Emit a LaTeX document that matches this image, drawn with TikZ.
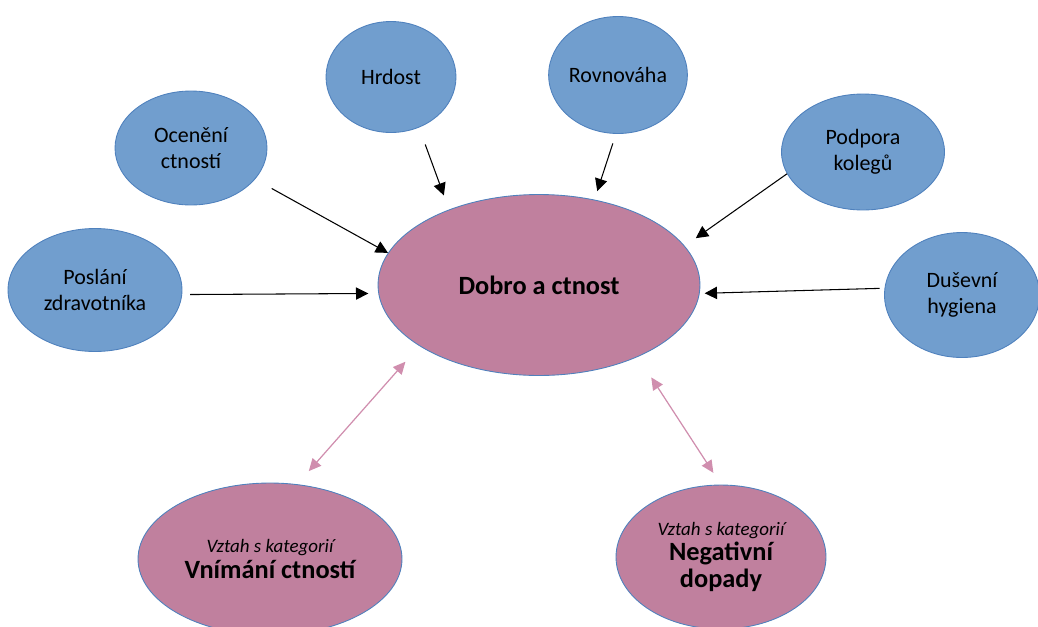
\documentclass[tikz,border=0pt]{standalone}
\usepackage{fontspec}
\setmainfont{Carlito}
\usetikzlibrary{shapes.geometric,arrows.meta}

\definecolor{bubbleblue}{RGB}{113,158,206}
\definecolor{edgeblue}{RGB}{79,129,189}
\definecolor{bubblepink}{RGB}{192,128,158}
\definecolor{linkpink}{RGB}{208,142,174}

\tikzset{
  bubble/.style={ellipse, draw=edgeblue, line width=0.5pt, fill=bubbleblue,
    inner sep=0pt, align=center, font=\fontsize{12.5}{14.8}\selectfont},
  core/.style={bubble, fill=bubblepink, font=\fontsize{15}{14.6}\selectfont},
  feeds/.style={-{Triangle[length=7pt,width=7pt]}, line width=0.6pt},
  relates/.style={{Triangle[length=7pt,width=6.5pt]}-{Triangle[length=7pt,width=6.5pt]},
    draw=linkpink, line width=0.7pt}
}

\begin{document}
\begin{tikzpicture}[x=0.02cm, y=-0.02cm]
    \useasboundingbox (0,0) rectangle (1038,626);
    % centre
    \node[core, minimum width=6.44cm, minimum height=3.62cm,
      font=\bfseries\fontsize{15}{18}\selectfont] (dobro) at (539,285) {Dobro a ctnost};
    % blue bubbles
    \node[bubble, minimum width=3.04cm, minimum height=2.28cm] (oceneni) at (191,148) {Ocenění\\ctností};
    \node[bubble, minimum width=2.6cm, minimum height=2.22cm] (hrdost) at (391,77) {Hrdost};
    \node[bubble, minimum width=2.62cm, minimum height=2.34cm] (rovnovaha) at (618,75) {Rovnováha};
    \node[bubble, minimum width=3.26cm, minimum height=2.32cm] (podpora) at (863,152) {Podpora\\kolegů};
    \node[bubble, minimum width=3.48cm, minimum height=2.46cm] (poslani) at (95,290) {Poslání\\zdravotníka};
    \node[bubble, minimum width=3.1cm, minimum height=2.5cm] (dusevni) at (962,295) {Duševní\\hygiena};
    % pink bubbles
    \node[core, minimum width=5.28cm, minimum height=3.04cm] (vnimani) at (270,559)
      {{\itshape\fontsize{10.8}{13}\selectfont Vztah s kategorií}\\{\bfseries Vnímání ctností}};
    \node[core, minimum width=4.2cm, minimum height=2.88cm] (negativni) at (721,557)
      {{\itshape\fontsize{10.8}{13}\selectfont Vztah s kategorií}\\{\bfseries Negativní}\\[0.6pt]{\bfseries dopady}};

    \draw[feeds, shorten <=0.38cm] (oceneni.-26) -- (dobro.168);
    \draw[feeds, shorten <=0.36cm, shorten >=0.3cm] (hrdost.-61) -- (dobro.140);
    \draw[feeds, shorten <=0.2cm, shorten >=0.18cm] (rovnovaha.-92.5) -- (dobro.57.6);
    \draw[feeds, shorten >=0.27cm] (podpora.196.8) -- (dobro.15.7);
    \draw[feeds, shorten <=0.16cm, shorten >=0.2cm] (poslani.-3.3) -- (dobro.183.5);
    \draw[feeds, shorten <=0.1cm, shorten >=0.1cm] (dusevni.175.8) -- (dobro.-3.4);

    \draw[relates, shorten <=0.35cm, shorten >=0.42cm] (vnimani.70.6) -- (dobro.207.4);
    \draw[relates, shorten <=0.49cm, shorten >=0.28cm] (dobro.-36.9) -- (negativni.90.7);
\end{tikzpicture}
\end{document}
